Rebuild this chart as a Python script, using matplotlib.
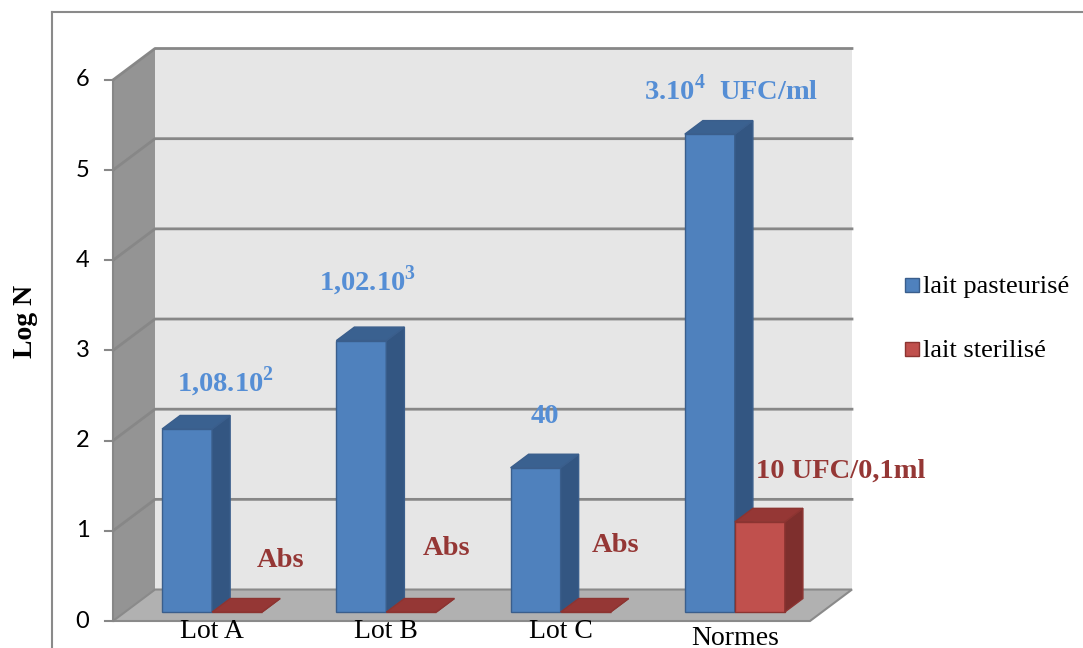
import matplotlib.pyplot as plt
from matplotlib.patches import Polygon, Rectangle
from matplotlib.lines import Line2D

plt.rcParams['mathtext.fontset'] = 'custom'
plt.rcParams['mathtext.bf'] = 'Liberation Serif:bold'
plt.rcParams['mathtext.rm'] = 'Liberation Serif:bold'

# --- data -------------------------------------------------------------
categories = ['Lot A', 'Lot B', 'Lot C', 'Normes']
log_pasteurise = [2.03, 3.01, 1.60, 5.30]
log_sterilise = [0.0, 0.0, 0.0, 1.0]
labels_pasteurise = [r'1,08.10$^{\mathbf{2}}$', r'1,02.10$^{\mathbf{3}}$', '40',
                     r'3.10$^{\mathbf{4}}$  UFC/ml']
labels_sterilise = ['Abs', 'Abs', 'Abs', '10 UFC/0,1ml']
series_names = ['lait pasteurisé', 'lait sterilisé']
yticks = [0, 1, 2, 3, 4, 5, 6]

# --- styling / layout -------------------------------------------------
W, H = 1083, 648
X0_PX, CAT_PX = 113, 174.25      # floor front-left corner, width of one category
Y0_PX, UNIT_PX = 621, 90.17      # value 0 on the front edge, pixels per log unit
DX, DY = 0.241, 0.349            # depth offset of the back wall (data units)
BAR_W = 0.287
D0, D1 = 0.285, 0.715            # bars sit in the middle of the depth

blue = {'front': '#4F81BD', 'side': '#335682', 'top': '#3A6190', 'edge': '#3A5E8C'}
red = {'front': '#C0504D', 'side': '#7E2F2D', 'top': '#953735', 'edge': '#8C3431'}
blue_txt = '#558ED5'
red_txt = '#953735'
grid_c = '#878787'

# label placement (above bar value, shift from category start)
lab_p_dy = [0.52, 0.66, 0.60, 0.48]
lab_p_dx = [0.643, 0.458, 0.479, 0.547]
lab_s_dy = [0.60, 0.73, 0.77, 0.59]
lab_s_dx = [0.964, 0.917, 0.887, 1.178]
cat_drop = [0, 0, 0, 0.08]

serif = ['Liberation Serif', 'DejaVu Serif']

fig = plt.figure(figsize=(W / 100, H / 100), dpi=100)
ax = fig.add_axes([0, 0, 1, 1])
ax.set_xlim(-X0_PX / CAT_PX, (W - X0_PX) / CAT_PX)
ax.set_ylim((Y0_PX - H) / UNIT_PX, Y0_PX / UNIT_PX)
ax.axis('off')


def P(x, y, d):
    return (x + d * DX, y + d * DY)


def poly(pts, fc, ec='none', lw=0, z=1):
    ax.add_patch(Polygon(pts, closed=True, facecolor=fc, edgecolor=ec,
                         linewidth=lw, zorder=z))


ymax = yticks[-1]
n = len(categories)

# walls and floor
poly([P(0, 0, 1), P(n, 0, 1), P(n, ymax, 1), P(0, ymax, 1)], '#E6E6E6', z=0)
poly([P(0, 0, 0), P(0, 0, 1), P(0, ymax, 1), P(0, ymax, 0)], '#949494', z=0)
poly([P(0, 0, 0), P(n, 0, 0), P(n, 0, 1), P(0, 0, 1)], '#B1B1B1',
     ec='#8A8A8A', lw=1.5, z=1)

for k in yticks[1:]:
    xs, ys = zip(P(0, k, 0), P(0, k, 1), P(n, k, 1))
    ax.add_line(Line2D(xs, ys, color=grid_c, lw=2, zorder=1))

# value axis on the front-left edge
ax.add_line(Line2D([0, 0], [0, ymax], color=grid_c, lw=1.5, zorder=2))
for k in yticks:
    ax.add_line(Line2D([-0.045, 0], [k, k], color=grid_c, lw=1.5, zorder=2))
    ax.text(-0.135, k, str(k), ha='right', va='center', fontsize=17,
            family='Lato', color='black')

ax.text(-0.505, 3.32, 'Log N', rotation=90, ha='center', va='center',
        fontsize=20, fontweight='bold', family=serif)


def box(xl, h, c, z):
    xr = xl + BAR_W
    poly([P(xl, 0, D0), P(xr, 0, D0), P(xr, h, D0), P(xl, h, D0)],
         c['front'], c['edge'], 1, z)
    poly([P(xr, 0, D0), P(xr, 0, D1), P(xr, h, D1), P(xr, h, D0)],
         c['side'], c['edge'], 1, z)
    poly([P(xl, h, D0), P(xr, h, D0), P(xr, h, D1), P(xl, h, D1)],
         c['top'], c['edge'], 1, z)


for i in range(n):
    x0 = i + (1 - 2 * BAR_W) / 2
    box(x0, log_pasteurise[i], blue, 3 + 2 * i)
    box(x0 + BAR_W, log_sterilise[i], red, 4 + 2 * i)

    ax.text(i + lab_p_dx[i], log_pasteurise[i] + lab_p_dy[i], labels_pasteurise[i],
            ha='center', va='baseline', fontsize=20.5, fontweight='bold',
            color=blue_txt, family=serif, zorder=20)
    ax.text(i + lab_s_dx[i], log_sterilise[i] + lab_s_dy[i], labels_sterilise[i],
            ha='center', va='baseline', fontsize=20.5, fontweight='bold',
            color=red_txt, family=serif, zorder=20)

    cx, _ = P(i + 0.5, 0, D0)
    ax.text(cx, 0.02 - cat_drop[i], categories[i], ha='center', va='top',
            fontsize=20, family=serif, zorder=20)

# legend
for j, (name, c) in enumerate(zip(series_names, [blue, red])):
    yb = 1 - (278 + 64 * j) / H
    fig.patches.append(Rectangle((905 / W, yb - 14 / H), 14 / W, 14 / H,
                                 transform=fig.transFigure, facecolor=c['front'],
                                 edgecolor=c['edge'], linewidth=1))
    fig.text(923 / W, yb - 15 / H, name, ha='left', va='baseline',
             fontsize=19, family=serif)

# chart area border
fig.add_artist(Line2D([52 / W, 1], [1 - 12 / H, 1 - 12 / H],
                      transform=fig.transFigure, color='#8A8A8A', lw=1.5))
fig.add_artist(Line2D([52 / W, 52 / W], [0, 1 - 12 / H],
                      transform=fig.transFigure, color='#8A8A8A', lw=1.5))

fig.savefig('out.png', dpi=100)
